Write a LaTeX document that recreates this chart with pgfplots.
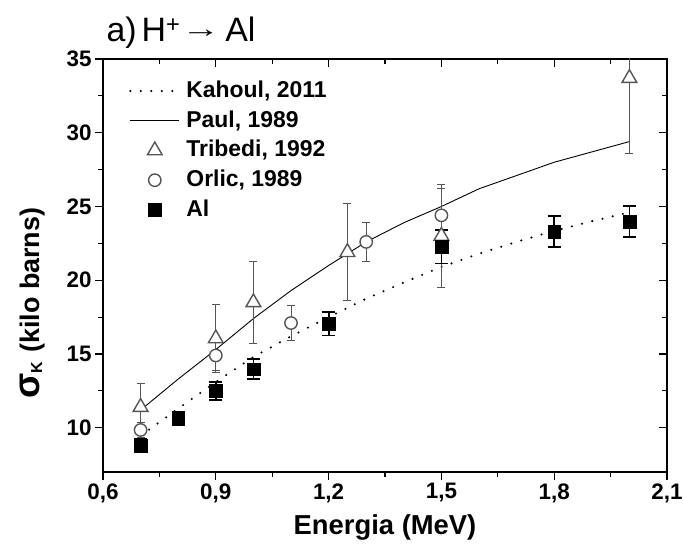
\documentclass[border=0pt]{standalone}
\usepackage{pgfplots}
\pgfplotsset{compat=1.18}
\usepackage{fontspec}
\setmainfont{Liberation Sans}
\definecolor{mgray}{HTML}{555555}

\pgfplotstableread{
x y
0.7 9.45
0.8 11.3
0.9 13.1
1.0 14.8
1.1 16.2
1.2 17.5
1.3 18.75
1.4 19.85
1.5 20.9
1.6 21.8
1.7 22.6
1.8 23.35
1.9 24.0
2.0 24.6
}\kahoul
\pgfplotstableread{
x y
0.7 11.2
0.8 13.3
0.9 15.3
1.0 17.4
1.1 19.3
1.2 21.0
1.3 22.6
1.4 23.9
1.5 25.0
1.6 26.2
1.7 27.1
1.8 28.0
1.9 28.7
2.0 29.4
}\paul
\pgfplotstableread{
x y e
0.7 11.4 1.6
0.9 16.05 2.3
1.0 18.5 2.8
1.25 21.9 3.3
1.5 23.0 3.5
2.0 33.7 5.1
}\tribedi
\pgfplotstableread{
x y e
0.7 9.85 0.5
0.9 14.9 1.0
1.1 17.1 1.2
1.3 22.6 1.35
1.5 24.4 1.85
}\orlic
\pgfplotstableread{
x y e
0.7 8.78 0.45
0.8 10.65 0.45
0.9 12.5 0.6
1.0 13.97 0.68
1.2 17.04 0.79
1.5 22.27 1.13
1.8 23.3 1.07
2.0 23.98 1.07
}\al

\begin{document}
\begin{tikzpicture}[x=1bp,y=1bp]
\useasboundingbox (0,0) rectangle (683,545);
\pgfplotsset{
  legend image code/.code={\path[draw=none,fill=none] (0bp,-9bp) rectangle (49bp,9bp);
    \draw[mark repeat=2,mark phase=2,#1] plot coordinates {(0bp,0bp) (24.5bp,0bp) (49bp,0bp)};},
  commonframe/.style={
    at={(103bp,73bp)}, anchor=south west,
    scale only axis, width=564bp, height=413bp,
    xmin=0.6, xmax=2.1, ymin=7, ymax=35,
    xtick={0.6,0.9,1.2,1.5,1.8,2.1},
    ytick={10,15,20,25,30,35},
    minor x tick num=1, minor y tick num=1,
    major tick length=8bp, minor tick length=5bp,
    every tick/.append style={black, line width=1.2bp},
    every minor tick/.append style={black, line width=1.2bp},
  }
}
% mirrored inner ticks (top/right)
\begin{axis}[commonframe,
  xtick pos=right, ytick pos=right, tick align=inside,
  xticklabels={}, yticklabels={},
  axis line style={draw=none}]
\end{axis}
\begin{axis}[commonframe,
  xtick pos=left, ytick pos=left, tick align=outside,
  axis line style={line width=1.5bp},
  xticklabels={{0,6},{0,9},{1,2},{1,5},{1,8},{2,1}},
  ticklabel style={font=\bfseries\fontsize{22.5}{26}\selectfont},
  /pgf/number format/assume math mode=true,
  legend style={draw=none, fill=none, at={(axis description cs:0.046,0.953)}, anchor=north west,
    font=\bfseries\fontsize{23}{26}\selectfont, row sep=4.7bp, inner sep=0pt,
    nodes={inner sep=2bp, text height=17bp, text depth=4bp},
    /tikz/every odd column/.append style={column sep=4bp}},
  legend cell align=left,
]
\addplot[black, line width=2.3bp, line cap=round, dash pattern=on 0bp off 10.5bp] table[x=x,y=y] {\kahoul};
\addlegendentry{Kahoul, 2011}
\addplot[black, line width=0.9bp] table[x=x,y=y] {\paul};
\addlegendentry{Paul, 1989}
\addplot[only marks, mark=triangle*, mark size=8.5bp, mgray,
  mark options={fill=white, draw=mgray, line width=1.4bp},
  error bars/.cd, y dir=both, y explicit,
  error bar style={line width=0.9bp, mgray},
  error mark options={rotate=90, line width=0.9bp, mgray, mark size=4bp}]
  table[x=x,y=y,y error=e] {\tribedi};
\addlegendentry{Tribedi, 1992}
\addplot[only marks, mark=*, mark size=6.2bp, mgray,
  mark options={fill=white, draw=mgray, line width=1.4bp},
  error bars/.cd, y dir=both, y explicit,
  error bar style={line width=0.9bp, mgray},
  error mark options={rotate=90, line width=0.9bp, mgray, mark size=4bp}]
  table[x=x,y=y,y error=e] {\orlic};
\addlegendentry{Orlic, 1989}
\addplot[only marks, mark=square*, mark size=6.4bp, black,
  error bars/.cd, y dir=both, y explicit,
  error bar style={line width=1.8bp, black},
  error mark options={rotate=90, line width=1.8bp, black, mark size=6.5bp}]
  table[x=x,y=y,y error=e] {\al};
\addlegendentry{Al}
\end{axis}
\node[anchor=base, font=\bfseries\fontsize{27.5}{30}\selectfont] at (385bp,10bp) {Energia (MeV)};
\node[anchor=base west, rotate=90, font=\bfseries\fontsize{27}{30}\selectfont] at (39bp,143bp)
  {{\fontsize{37}{37}\selectfont σ}\raisebox{-3bp}{\fontsize{16}{16}\selectfont K}\hspace{9bp}(kilo barns)};
\node[anchor=base west, font=\fontsize{34}{36}\selectfont] at (103bp,503bp)
  {a)\hspace{5bp}H\textsuperscript{+}\hspace{1bp}\raisebox{4bp}{\scalebox{1.5}[1]{\fontsize{26}{26}\selectfont →}}\hspace{5bp}Al};
\end{tikzpicture}
\end{document}
